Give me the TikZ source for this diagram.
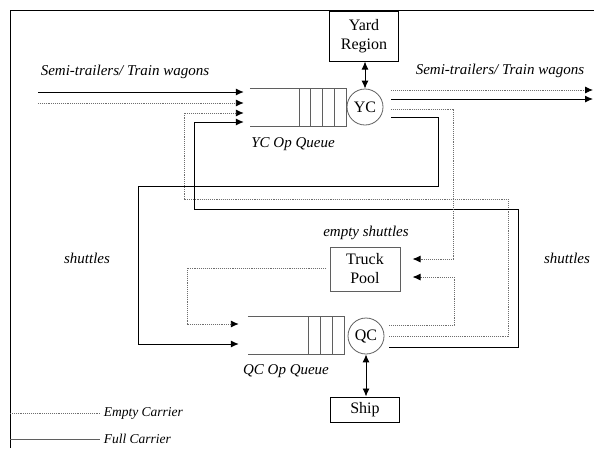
\documentclass[tikz,border=0pt]{standalone}
\usepackage{fontspec}
\setmainfont{Liberation Serif}
\usetikzlibrary{arrows.meta,calc}
\newcommand\capfont{\fontsize{15}{17}\selectfont\itshape}
\newcommand\boxfont{\fontsize{16}{19}\selectfont}
\newcommand\keyfont{\fontsize{13.5}{15}\selectfont\itshape}
\definecolor{LineGray}{RGB}{95,95,95}
\definecolor{DotGray}{RGB}{110,110,110}

\begin{document}
\begin{tikzpicture}[x=1pt,y=-1pt,>={Latex[length=8pt,width=7pt,color=black]},
    full/.style={line width=0.95pt},
    empty/.style={DotGray,densely dotted,line width=0.9pt},
    qline/.style={LineGray,line width=0.8pt},
    unit/.style={draw,line width=1pt,minimum width=69pt,align=center,font=\boxfont,inner sep=1pt},
    crane/.style={circle,draw=LineGray,line width=0.8pt,minimum size=36pt,inner sep=0pt,font=\boxfont},
    queue/.style={minimum width=96pt,minimum height=37pt,inner sep=0pt},
    caption/.style={font=\capfont}]
  \useasboundingbox (0,0) rectangle (594,448);
  \draw[line width=0.9pt] (10,448) -- (10,10) -- (594,10);

  % stations
  \node[unit,minimum height=50pt] (yard) at (364,36) {Yard\\Region};
  \node[crane] (yc) at (365,107) {YC};
  \node[queue] (ycq) at (298,107.5) {};
  \node[unit,draw=LineGray,minimum width=70pt,minimum height=44pt] (pool) at (365,269) {Truck\\Pool};
  \node[crane] (qc) at (366,336) {QC};
  \node[queue] (qcq) at (296,335.5) {};
  \node[unit,minimum height=25pt] (ship) at (365,409.5) {Ship};

  % queues
  \draw[qline] (ycq.north west) -- (ycq.north east) -- (ycq.south east) -- (ycq.south west);
  \foreach \d in {12,24,36,47}
    \draw[qline] ($(ycq.north east)+(-\d,0)$) -- ($(ycq.south east)+(-\d,0)$);
  \draw[qline] (qcq.north west) -- (qcq.north east) -- (qcq.south east) -- (qcq.south west);
  \foreach \d in {12,24,36}
    \draw[qline] ($(qcq.north east)+(-\d,0)$) -- ($(qcq.south east)+(-\d,0)$);

  % labels
  \node[caption] (inlbl) at (125,72) {Semi-trailers/ Train wagons};
  \node[caption] (outlbl) at (500,71) {Semi-trailers/ Train wagons};
  \node[caption] (ycqlbl) at (293,144) {YC Op Queue};
  \node[caption] (qcqlbl) at (286,371) {QC Op Queue};
  \node[caption] (poollbl) at (366,233) {empty shuttles};
  \node[caption] (leftlbl) at (87,258) {shuttles};
  \node[caption] (rightlbl) at (567,258) {shuttles};

  % free ends
  \coordinate (inA) at (38,92);
  \coordinate (inB) at (38,103);
  \coordinate (outA) at (593,90);
  \coordinate (outB) at (593,99);

  % gates
  \draw[full,<->] (yard.south -| yc.north) -- (yc.north);
  \draw[full,<->] (qc.south) -- (ship.north -| qc.south);

  % arrivals and departures
  \draw[full,->] (inA) -- ($(ycq.west)+(-6,-15.5)$);
  \draw[empty,->] (inB) -- ($(ycq.west)+(-6,-4.5)$);
  \draw[empty,->] ($(yc.east)+(8,-17)$) -- (outA);
  \draw[full,->] ($(yc.east)+(8,-8)$) -- (outB);

  % shuttles
  \draw[empty,->] ($(qc.east)+(5,0)$) -| (508,199) -| (184,113) -- ($(ycq.west)+(-6,5.5)$);
  \draw[full,->] ($(qc.east)+(5,11)$) -| (518,209) -| (194,122) -- ($(ycq.west)+(-6,14.5)$);
  \draw[full,->] ($(yc.east)+(8,10)$) -| (438,186) -| (138,344) -- ($(qcq.west)+(-9,8.5)$);
  \draw[empty,->] ($(yc.east)+(8,2)$) -| (453,259) -- ($(pool.east)+(12,-10)$);
  \draw[empty,->] ($(qc.east)+(5,-11)$) -| (454,277) -- ($(pool.east)+(12,8)$);
  \draw[empty,->] ($(pool.west)+(-4,-1)$) -| (187,324) -- ($(qcq.west)+(-9,-11.5)$);

  % key
  \draw[empty] (10,413) -- (100,413) node[right,font=\keyfont,black] (emptykey) {Empty Carrier};
  \draw[full,LineGray,line width=0.9pt] (10,439) -- (100,439) node[right,font=\keyfont,black] (fullkey) {Full Carrier};
\end{tikzpicture}
\end{document}
